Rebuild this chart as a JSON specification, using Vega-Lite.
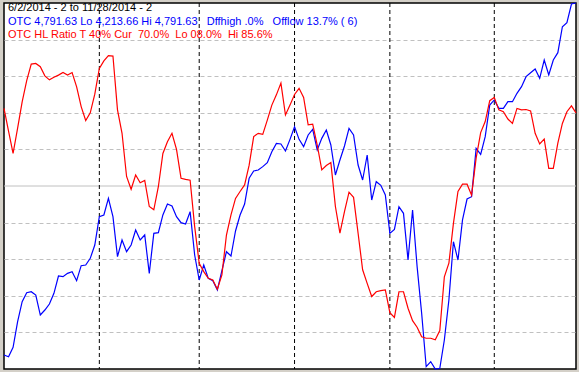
{
  "$schema": "https://vega.github.io/schema/vega-lite/v6.json",
  "width": 572,
  "height": 366,
  "autosize": "none",
  "padding": {"left": 4, "top": 3, "right": 3, "bottom": 3},
  "background": "#d4d0c8",
  "config": {
    "view": {"fill": "#ffffff", "stroke": "#000000", "strokeWidth": 1.5},
    "font": "Liberation Sans"
  },
  "data": {"values": [
    {"i":0,"otc":4235.8,"ratio":71.2},{"i":1,"otc":4233.1,"ratio":65.0},{"i":2,"otc":4247.9,"ratio":58.9},{"i":3,"otc":4288.4,"ratio":65.8},
    {"i":4,"otc":4320.0,"ratio":73.0},{"i":5,"otc":4334.2,"ratio":78.8},{"i":6,"otc":4335.8,"ratio":83.3},{"i":7,"otc":4330.5,"ratio":83.5},
    {"i":8,"otc":4298.9,"ratio":82.6},{"i":9,"otc":4306.8,"ratio":80.1},{"i":10,"otc":4316.3,"ratio":79.0},{"i":11,"otc":4333.2,"ratio":79.7},
    {"i":12,"otc":4360.5,"ratio":80.3},{"i":13,"otc":4359.5,"ratio":81.0},{"i":14,"otc":4364.7,"ratio":80.3},{"i":15,"otc":4367.4,"ratio":81.0},
    {"i":16,"otc":4353.1,"ratio":77.1},{"i":17,"otc":4376.8,"ratio":71.7},{"i":18,"otc":4377.9,"ratio":67.9},{"i":19,"otc":4388.4,"ratio":70.0},
    {"i":20,"otc":4409.5,"ratio":75.1},{"i":21,"otc":4454.2,"ratio":82.1},{"i":22,"otc":4456.9,"ratio":84.2},{"i":23,"otc":4483.2,"ratio":85.6},
    {"i":24,"otc":4454.2,"ratio":85.5},{"i":25,"otc":4391.1,"ratio":70.8},{"i":26,"otc":4417.4,"ratio":64.4},{"i":27,"otc":4398.9,"ratio":52.6},
    {"i":28,"otc":4409.5,"ratio":49.1},{"i":29,"otc":4433.2,"ratio":53.0},{"i":30,"otc":4417.4,"ratio":50.9},{"i":31,"otc":4425.3,"ratio":51.5},
    {"i":32,"otc":4364.7,"ratio":44.4},{"i":33,"otc":4427.9,"ratio":43.5},{"i":34,"otc":4429.0,"ratio":49.8},{"i":35,"otc":4456.9,"ratio":58.9},
    {"i":36,"otc":4474.2,"ratio":62.1},{"i":37,"otc":4471.1,"ratio":64.4},{"i":38,"otc":4454.2,"ratio":60.0},{"i":39,"otc":4444.7,"ratio":52.1},
    {"i":40,"otc":4442.6,"ratio":51.8},{"i":41,"otc":4462.1,"ratio":51.6},{"i":42,"otc":4393.7,"ratio":38.9},{"i":43,"otc":4354.2,"ratio":28.9},
    {"i":44,"otc":4377.9,"ratio":26.6},{"i":45,"otc":4356.8,"ratio":24.8},{"i":46,"otc":4353.1,"ratio":24.3},{"i":47,"otc":4338.4,"ratio":21.8},
    {"i":48,"otc":4369.0,"ratio":25.7},{"i":49,"otc":4398.9,"ratio":36.6},{"i":50,"otc":4392.1,"ratio":42.1},{"i":51,"otc":4431.6,"ratio":46.6},
    {"i":52,"otc":4456.9,"ratio":48.5},{"i":53,"otc":4474.2,"ratio":50.3},{"i":54,"otc":4514.8,"ratio":55.7},{"i":55,"otc":4526.3,"ratio":63.5},
    {"i":56,"otc":4527.9,"ratio":64.4},{"i":57,"otc":4533.2,"ratio":64.1},{"i":58,"otc":4539.5,"ratio":68.0},{"i":59,"otc":4556.8,"ratio":72.1},
    {"i":60,"otc":4570.0,"ratio":74.9},{"i":61,"otc":4569.0,"ratio":78.1},{"i":62,"otc":4557.9,"ratio":69.4},{"i":63,"otc":4576.3,"ratio":72.1},
    {"i":64,"otc":4596.3,"ratio":75.0},{"i":65,"otc":4576.3,"ratio":76.7},{"i":66,"otc":4564.8,"ratio":74.2},{"i":67,"otc":4583.2,"ratio":66.7},
    {"i":68,"otc":4592.1,"ratio":66.9},{"i":69,"otc":4559.5,"ratio":61.2},{"i":70,"otc":4577.9,"ratio":54.4},{"i":71,"otc":4591.1,"ratio":55.6},
    {"i":72,"otc":4567.4,"ratio":56.4},{"i":73,"otc":4520.0,"ratio":44.4},{"i":74,"otc":4543.7,"ratio":37.1},{"i":75,"otc":4565.8,"ratio":43.0},
    {"i":76,"otc":4593.7,"ratio":48.3},{"i":77,"otc":4583.2,"ratio":46.9},{"i":78,"otc":4535.8,"ratio":37.1},{"i":79,"otc":4512.1,"ratio":27.1},
    {"i":80,"otc":4551.6,"ratio":23.4},{"i":81,"otc":4480.5,"ratio":19.8},{"i":82,"otc":4509.5,"ratio":21.1},{"i":83,"otc":4503.7,"ratio":21.4},
    {"i":84,"otc":4488.4,"ratio":21.6},{"i":85,"otc":4427.9,"ratio":15.4},{"i":86,"otc":4434.2,"ratio":14.1},{"i":87,"otc":4470.0,"ratio":21.1},
    {"i":88,"otc":4459.5,"ratio":21.1},{"i":89,"otc":4385.8,"ratio":16.6},{"i":90,"otc":4464.8,"ratio":13.2},{"i":91,"otc":4375.3,"ratio":11.4},
    {"i":92,"otc":4301.6,"ratio":8.8},{"i":93,"otc":4217.3,"ratio":8.4},{"i":94,"otc":4225.2,"ratio":8.4},{"i":95,"otc":4213.66,"ratio":8.0},
    {"i":96,"otc":4214.7,"ratio":10.5},{"i":97,"otc":4259.5,"ratio":25.2},{"i":98,"otc":4322.6,"ratio":28.9},{"i":99,"otc":4414.7,"ratio":39.8},
    {"i":100,"otc":4385.8,"ratio":48.5},{"i":101,"otc":4449.0,"ratio":50.5},{"i":102,"otc":4482.1,"ratio":50.5},{"i":103,"otc":4485.8,"ratio":47.5},
    {"i":104,"otc":4562.1,"ratio":57.6},{"i":105,"otc":4552.7,"ratio":64.6},{"i":106,"otc":4580.5,"ratio":67.6},{"i":107,"otc":4630.6,"ratio":73.3},
    {"i":108,"otc":4638.5,"ratio":74.2},{"i":109,"otc":4625.3,"ratio":70.8},{"i":110,"otc":4625.3,"ratio":70.3},{"i":111,"otc":4635.8,"ratio":68.3},
    {"i":112,"otc":4635.8,"ratio":67.1},{"i":113,"otc":4649.0,"ratio":71.2},{"i":114,"otc":4659.5,"ratio":70.8},{"i":115,"otc":4675.3,"ratio":70.9},
    {"i":116,"otc":4681.6,"ratio":70.5},{"i":117,"otc":4687.4,"ratio":64.4},{"i":118,"otc":4672.7,"ratio":61.5},{"i":119,"otc":4701.6,"ratio":62.8},
    {"i":120,"otc":4677.9,"ratio":54.8},{"i":121,"otc":4701.6,"ratio":54.8},{"i":122,"otc":4713.2,"ratio":61.7},{"i":123,"otc":4754.2,"ratio":67.1},
    {"i":124,"otc":4760.6,"ratio":70.3},{"i":125,"otc":4790.0,"ratio":71.9},{"i":126,"otc":4791.63,"ratio":70.0}
  ]},
  "resolve": {"scale": {"y": "independent"}},
  "layer": [
    {
      "mark": {"type": "line", "opacity": 0},
      "encoding": {
        "x": {"field": "i", "type": "quantitative", "scale": {"domain": [0, 126], "nice": false, "zero": false}, "axis": null},
        "y": {"field": "ratio", "type": "quantitative", "scale": {"domain": [0, 100], "nice": false, "zero": false},
          "axis": {"title": null, "labels": false, "ticks": false, "domain": false, "grid": true,
            "values": [10, 20, 30, 40, 60, 70, 80, 90], "gridColor": "#c0c0c0", "gridDash": [4, 3], "gridWidth": 1}}
      }
    },
    {
      "mark": {"type": "rule", "color": "#c0c0c0", "strokeWidth": 1},
      "data": {"values": [{"level": 50}]},
      "encoding": {
        "y": {"field": "level", "type": "quantitative", "scale": {"domain": [0, 100], "nice": false, "zero": false}, "axis": null}
      }
    },
    {
      "mark": {"type": "rule", "color": "#000000", "strokeWidth": 1, "strokeDash": [4, 3]},
      "data": {"values": [{"i": 21}, {"i": 43}, {"i": 64}, {"i": 85}, {"i": 108}]},
      "encoding": {
        "x": {"field": "i", "type": "quantitative", "axis": null}
      }
    },
    {
      "mark": {"type": "line", "color": "#0000ff", "strokeWidth": 1.2, "interpolate": "linear"},
      "encoding": {
        "x": {"field": "i", "type": "quantitative", "axis": null},
        "y": {"field": "otc", "type": "quantitative", "scale": {"domain": [4213.66, 4791.63], "nice": false, "zero": false}, "axis": null}
      }
    },
    {
      "mark": {"type": "line", "color": "#ff0000", "strokeWidth": 1.2, "interpolate": "linear"},
      "encoding": {
        "x": {"field": "i", "type": "quantitative", "axis": null},
        "y": {"field": "ratio", "type": "quantitative", "scale": {"domain": [0, 100], "nice": false, "zero": false}, "axis": null}
      }
    },
    {
      "mark": {"type": "text", "align": "left", "baseline": "alphabetic", "fontSize": 11, "color": "#000000"},
      "data": {"values": [{"label": "6/2/2014 - 2 to 11/28/2014 - 2"}]},
      "encoding": {
        "x": {"datum": 0.88, "type": "quantitative", "axis": null},
        "y": {"datum": 97.8, "type": "quantitative", "scale": {"domain": [0, 100], "nice": false, "zero": false}, "axis": null},
        "text": {"field": "label"}
      }
    },
    {
      "mark": {"type": "text", "align": "left", "baseline": "alphabetic", "fontSize": 11, "color": "#0000ff"},
      "data": {"values": [{"label": "OTC 4,791.63 Lo 4,213.66 Hi 4,791.63 \u00a0\u00a0Dffhigh .0% \u00a0\u00a0Offlow 13.7% ( 6)"}]},
      "encoding": {
        "x": {"datum": 0.88, "type": "quantitative", "axis": null},
        "y": {"datum": 94.1, "type": "quantitative", "scale": {"domain": [0, 100], "nice": false, "zero": false}, "axis": null},
        "text": {"field": "label"}
      }
    },
    {
      "mark": {"type": "text", "align": "left", "baseline": "alphabetic", "fontSize": 11, "color": "#ff0000"},
      "data": {"values": [{"label": "OTC HL Ratio T 40% Cur \u00a070.0% \u00a0Lo 08.0% \u00a0Hi 85.6%"}]},
      "encoding": {
        "x": {"datum": 0.88, "type": "quantitative", "axis": null},
        "y": {"datum": 90.4, "type": "quantitative", "scale": {"domain": [0, 100], "nice": false, "zero": false}, "axis": null},
        "text": {"field": "label"}
      }
    }
  ]
}
